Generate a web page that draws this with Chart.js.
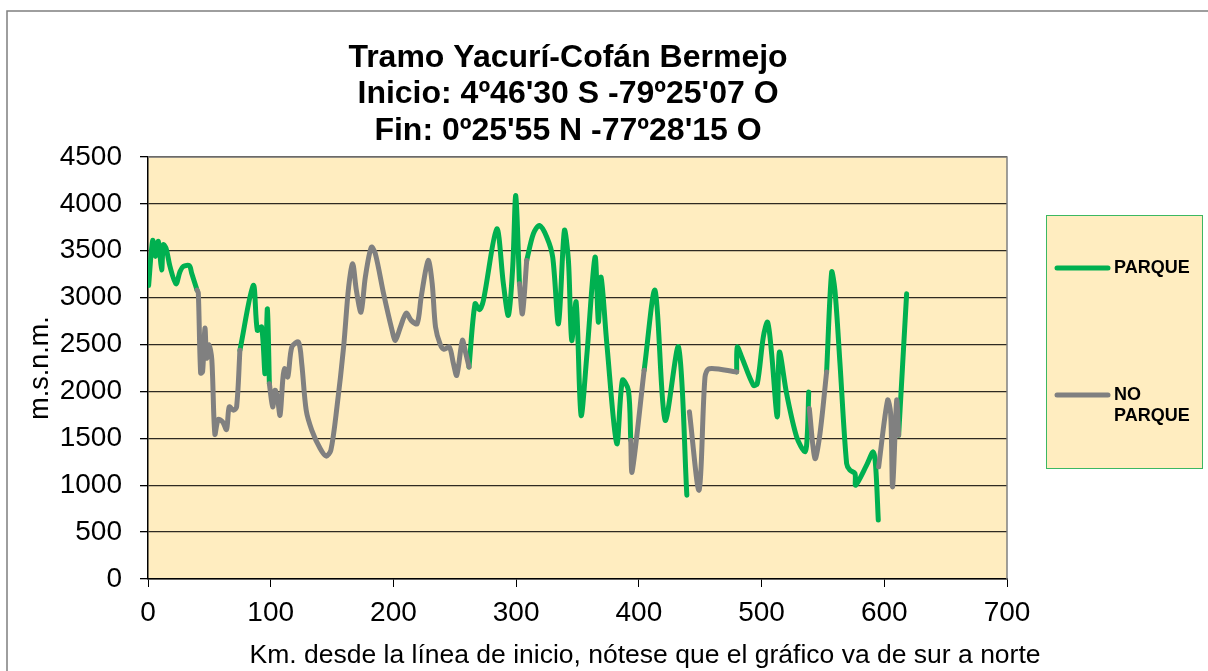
<!DOCTYPE html>
<html>
<head>
<meta charset="utf-8">
<script src="https://cdn.jsdelivr.net/npm/chart.js@4/dist/chart.umd.min.js"></script>
<style>
  body { margin: 0; background: #fff; }
  #wrap { position: relative; width: 1208px; height: 671px; }
</style>
</head>
<body>
<div id="wrap"><canvas id="perfil" width="1208" height="671"></canvas></div>
<script>
// titulo y ejes
const titleLines = ["Tramo Yacurí-Cofán Bermejo", "Inicio: 4º46'30 S -79º25'07 O", "Fin: 0º25'55 N -77º28'15 O"];
const xTitle = "Km. desde la línea de inicio, nótese que el gráfico va de sur a norte";
const yTitle = "m.s.n.m.";
const xTicks = [0, 100, 200, 300, 400, 500, 600, 700];
const yTicks = [0, 500, 1000, 1500, 2000, 2500, 3000, 3500, 4000, 4500];

// tramos dentro de parque (null = corte de linea)
const kmParque = [
  0.5, 3.8, 6, 8.4, 11.1, 12.5, 14.7, 17.9, 22.8, 26.1, 28.8, 33.7, 35.6, 40, null,
  74.9, 85.8, 89.1, 92.6, 95.4, 97.3, 98.9, null,
  261.6, 266.5, 270, 273.3, 284.2, 289.6, 293.7, 297.2, 299.7, 302.7, null,
  308.6, 314, 319, 325, 329.8, 334.5, 339.3, 342.6, 345.3, 348.9, 352.9, 357.5, 364.3, 367, 369.2, 373.9, 382, 386.6, 391.5, 393.4, null,
  404.3, 413.2, 421.4, 432.3, 439.1, null,
  479.7, 480.2, 483.8, 493.3, 496.5, 501.4, 504.9, 508.2, 512.8, 514.5, 520.4, 528.6, 535.4, 537.3, 538.4, null,
  553, 557.1, 559.8, 563.9, 569.3, 572, 576.1, 576.7, 585.6, 591, 593, 595.1, null,
  611.7, 618.2
];
const altParque = [
  3130, 3610, 3440, 3600, 3297, 3564, 3528, 3333, 3148, 3280, 3333, 3340, 3260, 3080, null,
  2438, 3130, 2651, 2687, 2190, 2882, 2083, null,
  2261, 2935, 2871, 2970, 3733, 3148, 2811, 3325, 4088, 3148, null,
  3396, 3680, 3769, 3645, 3432, 2722, 3716, 3396, 2545, 2953, 1746, 2367, 3432, 2740, 3219, 2509, 1444, 2119, 2012, 1480, null,
  2225, 3077, 1693, 2474, 894, null,
  2207, 2474, 2367, 2066, 2083, 2580, 2740, 2403, 1728, 2420, 1977, 1515, 1356, 1551, 1994, null,
  2207, 3272, 3077, 2296, 1231, 1160, 1125, 1001, 1214, 1356, 1196, 628, null,
  1533, 3041
];

// tramos fuera de parque
const kmNoParque = [
  40, 41, 42.9, 44.5, 46.4, 47.8, 49.7, 52, 54.5, 57.2, 60.8, 64, 66.2, 69.5, 72.2, 74.9, null,
  98.9, 101.6, 103.5, 105.4, 107.6, 109.8, 111.2, 113.9, 117.2, 122.6, 125.3, 128.9, 133.5, 140.3, 145.2, 149, 154, 159.4,
  163.5, 166.8, 169.8, 173.6, 177.1, 182, 185.3, 192, 198.9, 201.6, 205.7, 210.4, 214.4, 219.3, 222.6, 228.3, 231.6, 234.3,
  238.2, 241.3, 245.6, 248.9, 251.6, 256.2, 258.4, 261.6, null,
  302.7, 305.1, 308.6, null,
  393.4, 394.5, 404.3, null,
  441.2, 449.1, 453.9, 457.4, 479.7, null,
  538.9, 543.5, 547.6, 553, null,
  595.4, 602.7, 605.2, 606.8, 610.1, 611.7
];
const altNoParque = [
  3080, 3050, 2196, 2210, 2675, 2355, 2498, 2340, 1544, 1700, 1675, 1594, 1835, 1800, 1835, 2438, null,
  2083, 1835, 2012, 1941, 1746, 2119, 2243, 2154, 2474, 2527, 2296, 1800, 1586, 1391, 1310, 1373, 1835, 2474,
  3113, 3361, 3077, 2846, 3219, 3538, 3467, 3041, 2651, 2545, 2687, 2836, 2758, 2722, 3006, 3396, 3148, 2687,
  2500, 2449, 2474, 2296, 2172, 2545, 2438, 2261, null,
  3148, 2829, 3396, null,
  1480, 1143, 2225, null,
  1782, 948, 2154, 2243, 2207, null,
  1817, 1285, 1551, 2207, null,
  1196, 1906, 1764, 983, 1906, 1533
];

const verde = "#00B050";
const gris = "#808080";
const fondo = "#FFEDC0";
const fuente = "'Liberation Sans', Arial, sans-serif";

const toPoints = (kms, alts) => kms.map((km, i) => ({ x: km, y: alts[i] }));

// fondo del area de grafico y marco gris arriba/derecha
const plotFrame = {
  id: "plotFrame",
  beforeDraw(chart) {
    const { ctx, chartArea: a } = chart;
    ctx.save();
    ctx.fillStyle = fondo;
    ctx.fillRect(a.left, a.top, a.right - a.left, a.bottom - a.top);
    ctx.restore();
  },
  afterDatasetsDraw(chart) {
    const { ctx, chartArea: a } = chart;
    ctx.save();
    ctx.strokeStyle = gris;
    ctx.lineWidth = 1.5;
    ctx.beginPath();
    ctx.moveTo(a.left, a.top);
    ctx.lineTo(a.right, a.top);
    ctx.lineTo(a.right, a.bottom);
    ctx.stroke();
    ctx.restore();
  },
};

// titulo, titulo del eje x, leyenda y borde exterior
const extras = {
  id: "extras",
  afterDraw(chart) {
    const { ctx } = chart;
    ctx.save();
    // borde exterior
    ctx.strokeStyle = "#7f7f7f";
    ctx.lineWidth = 1.5;
    ctx.strokeRect(7, 11, 1230, 700);

    ctx.fillStyle = "#000";
    ctx.textAlign = "center";
    ctx.textBaseline = "middle";
    ctx.font = `bold 32px ${fuente}`;
    titleLines.forEach((t, i) => ctx.fillText(t, 568, 58 + i * 36.5));

    ctx.font = `26.5px ${fuente}`;
    ctx.fillText(xTitle, 645, 656);

    // leyenda
    ctx.fillStyle = fondo;
    ctx.fillRect(1046, 215, 156, 253);
    ctx.strokeStyle = "#3cb862";
    ctx.lineWidth = 1;
    ctx.strokeRect(1046.5, 215.5, 156, 253);

    const ys = [268, 395];
    ctx.textAlign = "left";
    ctx.font = `bold 18px ${fuente}`;
    chart.data.datasets.forEach((ds, i) => {
      const y = ys[i];
      ctx.strokeStyle = ds.borderColor;
      ctx.lineWidth = 5;
      ctx.lineCap = "round";
      ctx.beginPath();
      ctx.moveTo(1057, y);
      ctx.lineTo(1108, y);
      ctx.stroke();
      ctx.fillStyle = "#000";
      const words = ds.label.split(" ");
      const lines = ctx.measureText(ds.label).width > 82 ? words : [ds.label];
      lines.forEach((w, j) => ctx.fillText(w, 1114, y + j * 21.5));
    });
    ctx.restore();
  },
};

new Chart(document.getElementById("perfil"), {
  type: "line",
  data: {
    datasets: [
      {
        label: "PARQUE",
        data: toPoints(kmParque, altParque),
        borderColor: verde,
        order: 1,
      },
      {
        label: "NO PARQUE",
        data: toPoints(kmNoParque, altNoParque),
        borderColor: gris,
        order: 0,
      },
    ],
  },
  options: {
    responsive: false,
    animation: false,
    events: [],
    layout: { padding: { left: 0, top: 157, right: 201, bottom: 0 } },
    elements: {
      line: { borderWidth: 5, tension: 0.3, borderCapStyle: "round", borderJoinStyle: "round", fill: false },
      point: { radius: 0 },
    },
    spanGaps: false,
    plugins: { legend: { display: false }, title: { display: false }, tooltip: { enabled: false } },
    scales: {
      x: {
        type: "linear",
        min: 0,
        max: 700,
        afterFit: (s) => { s.height = 92; },
        afterBuildTicks: (s) => { s.ticks = xTicks.map((v) => ({ value: v })); },
        ticks: { padding: 9, color: "#000", font: { family: fuente, size: 28 }, callback: (v) => String(v) },
        grid: { display: true, drawOnChartArea: false, tickLength: 8, color: "#000", tickColor: "#000" },
        border: { color: "#000", width: 1.5 },
      },
      y: {
        min: 0,
        max: 4500,
        afterFit: (s) => { s.width = 148; },
        afterBuildTicks: (s) => { s.ticks = yTicks.map((v) => ({ value: v })); },
        ticks: { padding: 18, color: "#000", font: { family: fuente, size: 28 }, callback: (v) => String(v) },
        grid: { tickLength: 8, color: "#2e2a22", lineWidth: 1.3, tickColor: "#000" },
        border: { color: "#000", width: 1.5 },
        title: { display: true, text: yTitle, color: "#000", font: { family: fuente, size: 27 }, padding: { top: 24 } },
      },
    },
  },
  plugins: [plotFrame, extras],
});
</script>
</body>
</html>
